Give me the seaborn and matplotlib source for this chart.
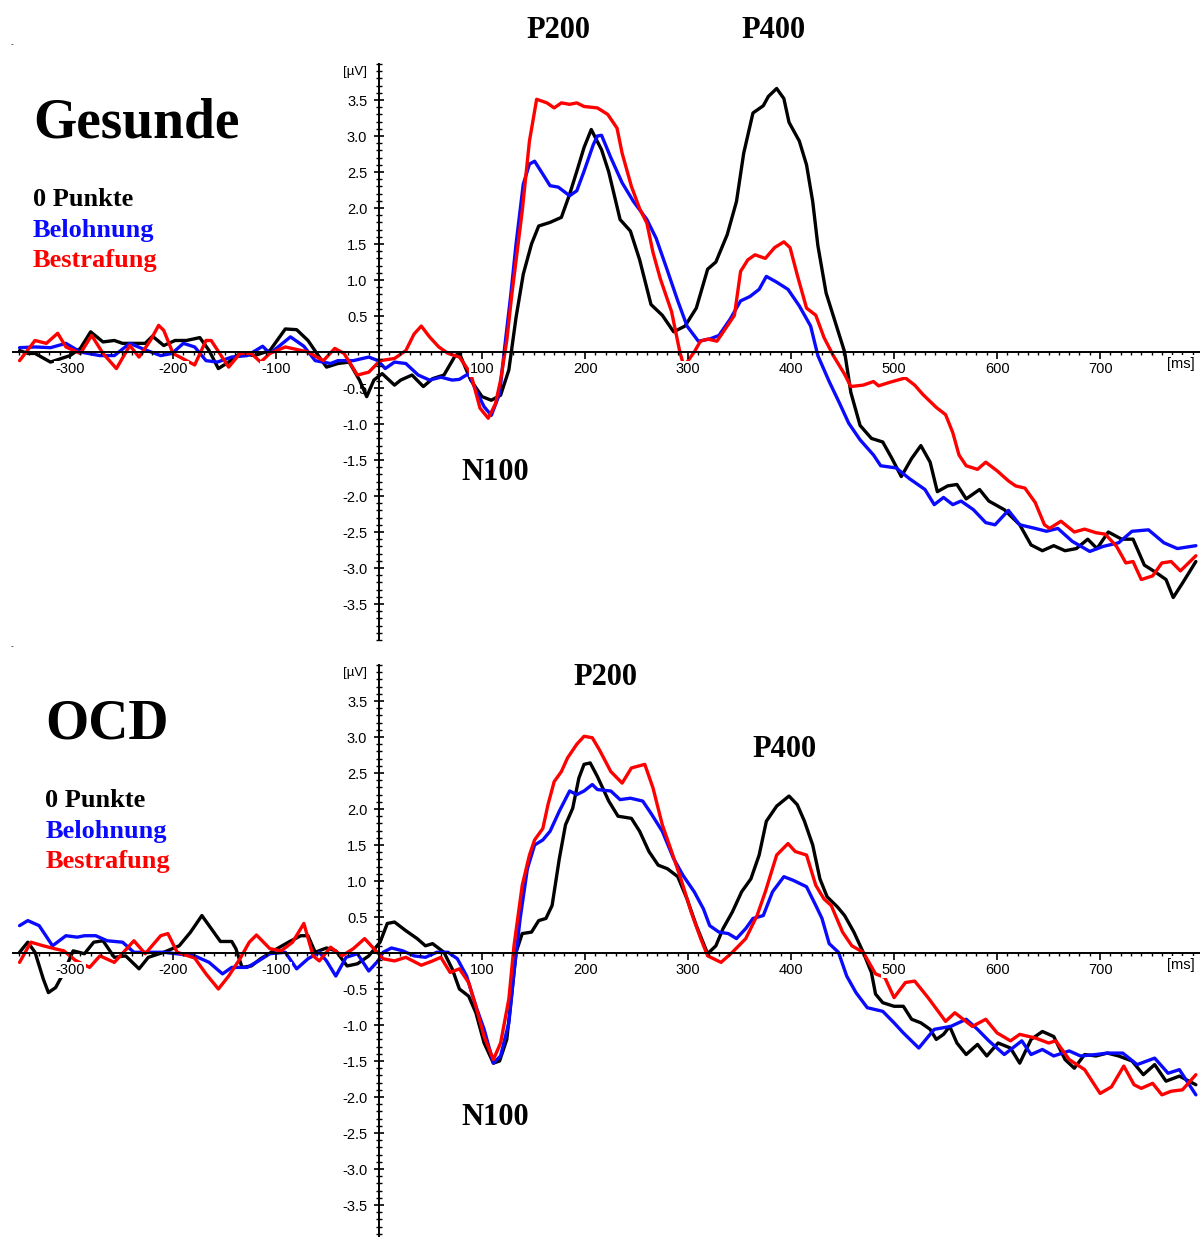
import numpy as np
import pandas as pd
import matplotlib
matplotlib.use('Agg')
import matplotlib.pyplot as plt
import seaborn as sns

sns.set_style('white')
plt.rcParams['font.family'] = ['Liberation Sans', 'DejaVu Sans']
plt.rcParams['text.color'] = 'black'
plt.rcParams['xtick.color'] = 'black'
plt.rcParams['ytick.color'] = 'black'

# Bedingungen und Farben
bedingungen = ['0 Punkte', 'Belohnung', 'Bestrafung']
farben = {'0 Punkte': '#000000', 'Belohnung': '#0a0aff', 'Bestrafung': '#ff0000'}

# ERP-Kurven (ms, µV)
ges_null = [(-349, 0.02), (-341, -0.02), (-334, -0.02), (-319, -0.14), (-300, -0.05), (-290, 0.05),
            (-280, 0.28), (-268, 0.14), (-257, 0.16), (-249, 0.12), (-238, 0.12), (-227, 0.12), (-220, 0.22),
            (-209, 0.09), (-198, 0.16), (-187, 0.16), (-174, 0.2), (-165, 0.02), (-156, -0.23), (-146, -0.14),
            (-135, -0.02), (-121, -0.05), (-106, 0.02), (-91, 0.32), (-80, 0.31), (-69, 0.16), (-58, -0.07),
            (-51, -0.21), (-40, -0.16), (-29, -0.14), (-19, -0.39), (-12, -0.62), (-5, -0.39), (3, -0.30),
            (15, -0.46), (21, -0.39), (32, -0.32), (43, -0.48), (52, -0.37), (63, -0.32), (74, -0.05),
            (78, -0.02), (89, -0.39), (100, -0.62), (109, -0.67), (118, -0.60), (126, -0.25), (133, 0.48),
            (140, 1.08), (148, 1.50), (155, 1.75), (166, 1.80), (177, 1.87), (185, 2.19), (192, 2.51),
            (199, 2.84), (206, 3.09), (216, 2.81), (223, 2.5), (234, 1.84), (244, 1.68), (253, 1.28),
            (264, 0.66), (275, 0.51), (286, 0.28), (297, 0.36), (308, 0.61), (319, 1.15), (327, 1.25),
            (338, 1.63), (347, 2.09), (354, 2.76), (363, 3.32), (373, 3.42), (378, 3.55), (386, 3.66),
            (393, 3.52), (398, 3.19), (408, 2.93), (415, 2.6), (421, 2.09), (426, 1.48), (434, 0.82),
            (443, 0.41), (452, 0.0), (458, -0.56), (467, -1.02), (478, -1.2), (489, -1.25), (498, -1.48),
            (507, -1.73), (517, -1.48), (526, -1.30), (535, -1.53), (542, -1.94), (552, -1.86), (561, -1.84),
            (570, -2.04), (583, -1.91), (592, -2.07), (607, -2.19), (622, -2.4), (633, -2.68), (644, -2.76),
            (655, -2.69), (666, -2.76), (677, -2.73), (688, -2.60), (697, -2.73), (708, -2.5), (721, -2.6),
            (732, -2.6), (743, -2.96), (754, -3.06), (764, -3.16), (771, -3.41), (780, -3.21), (793, -2.91)]

ges_bel = [(-349, 0.06), (-334, 0.07), (-319, 0.06), (-304, 0.12), (-290, 0.0), (-271, -0.05), (-257, -0.05),
           (-242, 0.12), (-227, 0.03), (-212, -0.05), (-201, -0.02), (-190, 0.12), (-179, 0.07), (-168, -0.12),
           (-157, -0.14), (-143, -0.07), (-128, -0.05), (-113, 0.08), (-106, -0.02), (-98, 0.07), (-86, 0.21),
           (-73, 0.08), (-62, -0.12), (-47, -0.16), (-40, -0.12), (-25, -0.12), (-10, -0.07), (-1, -0.12),
           (6, -0.23), (15, -0.14), (26, -0.16), (38, -0.32), (49, -0.39), (60, -0.35), (71, -0.39),
           (78, -0.38), (87, -0.30), (94, -0.53), (102, -0.76), (109, -0.88), (117, -0.58), (122, 0.07),
           (128, 0.81), (133, 1.5), (140, 2.33), (146, 2.61), (151, 2.65), (159, 2.47), (166, 2.31),
           (174, 2.29), (185, 2.17), (192, 2.24), (199, 2.51), (208, 2.88), (212, 3.0), (216, 3.01),
           (225, 2.70), (236, 2.35), (247, 2.09), (260, 1.84), (269, 1.58), (279, 1.17), (290, 0.71),
           (299, 0.36), (310, 0.15), (321, 0.18), (330, 0.23), (341, 0.46), (351, 0.71), (360, 0.77),
           (369, 0.87), (376, 1.05), (386, 0.97), (397, 0.87), (408, 0.64), (419, 0.36), (426, -0.05),
           (437, -0.41), (447, -0.71), (456, -0.99), (467, -1.22), (480, -1.43), (487, -1.58), (502, -1.61),
           (515, -1.76), (530, -1.91), (539, -2.12), (548, -2.02), (557, -2.12), (565, -2.07), (577, -2.19),
           (589, -2.37), (598, -2.40), (611, -2.2), (622, -2.4), (637, -2.45), (648, -2.49), (659, -2.45),
           (673, -2.63), (690, -2.77), (703, -2.70), (718, -2.65), (731, -2.49), (747, -2.47), (762, -2.65),
           (775, -2.73), (793, -2.69)]

ges_bes = [(-349, -0.12), (-334, 0.16), (-323, 0.12), (-312, 0.26), (-304, 0.07), (-290, -0.02), (-279, 0.23),
           (-268, -0.02), (-255, -0.23), (-242, 0.09), (-233, -0.07), (-222, 0.16), (-214, 0.37), (-209, 0.3),
           (-200, -0.02), (-179, -0.18), (-168, 0.16), (-163, 0.16), (-146, -0.21), (-135, -0.02), (-124, -0.02),
           (-115, -0.14), (-106, -0.02), (-91, 0.07), (-69, 0.0), (-54, -0.12), (-43, 0.05), (-34, -0.02),
           (-21, -0.32), (-10, -0.28), (1, -0.12), (15, -0.09), (26, 0.02), (34, 0.25), (41, 0.36), (49, 0.21),
           (58, 0.07), (67, -0.02), (78, -0.07), (89, -0.3), (98, -0.78), (106, -0.92), (113, -0.72),
           (118, -0.39), (124, 0.16), (129, 0.81), (139, 1.96), (146, 2.93), (153, 3.51), (163, 3.46),
           (170, 3.39), (177, 3.46), (185, 3.44), (192, 3.46), (199, 3.41), (212, 3.39), (222, 3.30),
           (231, 3.11), (236, 2.76), (245, 2.30), (253, 1.99), (260, 1.79), (266, 1.38), (273, 1.02),
           (284, 0.56), (292, 0.0), (296, -0.2), (306, 0.0), (312, 0.15), (319, 0.18), (328, 0.15), (338, 0.36),
           (345, 0.51), (351, 1.12), (358, 1.28), (365, 1.35), (375, 1.30), (384, 1.45), (393, 1.53),
           (399, 1.45), (406, 1.07), (415, 0.61), (424, 0.51), (432, 0.20), (441, -0.05), (452, -0.31),
           (458, -0.48), (470, -0.46), (480, -0.41), (485, -0.47), (496, -0.42), (511, -0.36), (520, -0.46),
           (528, -0.59), (541, -0.77), (550, -0.87), (557, -1.12), (563, -1.43), (570, -1.58), (581, -1.63),
           (589, -1.53), (600, -1.65), (611, -1.79), (618, -1.86), (627, -1.89), (637, -2.09), (646, -2.4),
           (651, -2.45), (662, -2.35), (675, -2.5), (685, -2.46), (696, -2.51), (705, -2.53), (716, -2.70),
           (725, -2.93), (732, -2.91), (740, -3.16), (751, -3.11), (760, -2.93), (769, -2.91), (778, -3.04),
           (793, -2.83)]

ocd_null = [(-349, 0.01), (-341, 0.15), (-334, 0.01), (-326, -0.36), (-321, -0.55), (-314, -0.48), (-306, -0.27),
            (-297, 0.03), (-286, -0.01), (-277, 0.15), (-268, 0.17), (-257, -0.06), (-246, -0.04), (-233, -0.22),
            (-224, -0.06), (-209, 0.01), (-194, 0.1), (-183, 0.29), (-172, 0.52), (-163, 0.34), (-154, 0.16),
            (-143, 0.16), (-139, 0.06), (-133, -0.2), (-124, -0.18), (-115, -0.08), (-99, 0.06), (-88, 0.15),
            (-76, 0.24), (-69, 0.24), (-62, 0.01), (-51, 0.07), (-42, 0.03), (-31, -0.18), (-21, -0.15),
            (-10, -0.04), (1, 0.15), (8, 0.41), (15, 0.43), (26, 0.31), (37, 0.2), (45, 0.1), (52, 0.13),
            (63, 0.01), (71, -0.22), (78, -0.5), (87, -0.6), (94, -0.83), (102, -1.25), (111, -1.53),
            (117, -1.5), (124, -1.2), (129, -0.55), (133, 0.01), (139, 0.27), (148, 0.29), (155, 0.45),
            (162, 0.48), (168, 0.66), (175, 1.31), (181, 1.78), (188, 2.01), (194, 2.43), (199, 2.62),
            (205, 2.64), (212, 2.45), (223, 2.11), (232, 1.9), (245, 1.87), (253, 1.69), (262, 1.41),
            (271, 1.22), (280, 1.17), (290, 1.06), (299, 0.75), (308, 0.38), (319, -0.01), (327, 0.1),
            (334, 0.34), (343, 0.57), (352, 0.85), (361, 1.03), (369, 1.36), (376, 1.83), (386, 2.04),
            (398, 2.18), (406, 2.06), (413, 1.83), (421, 1.5), (428, 1.03), (435, 0.78), (445, 0.64),
            (452, 0.52), (461, 0.29), (470, 0.01), (478, -0.27), (482, -0.57), (489, -0.69), (500, -0.74),
            (509, -0.74), (517, -0.92), (526, -0.97), (535, -1.06), (541, -1.2), (548, -1.13), (554, -1.02),
            (561, -1.25), (570, -1.41), (581, -1.27), (590, -1.43), (601, -1.25), (613, -1.32), (622, -1.53),
            (633, -1.2), (644, -1.09), (655, -1.16), (666, -1.48), (675, -1.6), (685, -1.41), (696, -1.43),
            (707, -1.39), (718, -1.43), (731, -1.5), (742, -1.69), (753, -1.55), (764, -1.78), (777, -1.71),
            (793, -1.83)]

ocd_bel = [(-349, 0.38), (-341, 0.45), (-330, 0.38), (-317, 0.1), (-304, 0.24), (-293, 0.22), (-286, 0.24),
           (-275, 0.24), (-264, 0.17), (-249, 0.15), (-238, 0.01), (-224, 0.01), (-209, 0.01), (-179, -0.04),
           (-165, -0.13), (-152, -0.29), (-143, -0.2), (-128, -0.2), (-117, -0.11), (-106, -0.01), (-91, 0.01),
           (-80, -0.22), (-69, -0.08), (-58, 0.01), (-51, -0.11), (-42, -0.32), (-32, -0.06), (-21, -0.01),
           (-10, -0.25), (-1, -0.11), (4, 0.01), (12, 0.07), (23, 0.03), (34, -0.04), (45, -0.06), (56, 0.01),
           (67, 0.01), (76, -0.08), (85, -0.32), (94, -0.74), (102, -1.06), (111, -1.53), (118, -1.43),
           (126, -0.97), (131, -0.27), (137, 0.48), (144, 1.17), (151, 1.5), (159, 1.57), (166, 1.69),
           (175, 1.97), (185, 2.25), (192, 2.2), (199, 2.25), (207, 2.34), (212, 2.27), (225, 2.25),
           (234, 2.13), (244, 2.15), (256, 2.11), (264, 1.94), (275, 1.69), (286, 1.31), (295, 1.08),
           (306, 0.85), (315, 0.61), (321, 0.38), (330, 0.29), (339, 0.27), (347, 0.2), (356, 0.34),
           (363, 0.48), (373, 0.52), (382, 0.85), (393, 1.06), (402, 1.01), (415, 0.92), (424, 0.66),
           (430, 0.48), (437, 0.13), (446, 0.01), (454, -0.32), (463, -0.55), (474, -0.76), (489, -0.81),
           (500, -0.97), (509, -1.11), (524, -1.32), (539, -1.06), (555, -1.02), (570, -0.92), (581, -1.06),
           (592, -1.22), (607, -1.41), (624, -1.22), (633, -1.41), (644, -1.34), (655, -1.43), (670, -1.36),
           (681, -1.43), (696, -1.41), (707, -1.39), (722, -1.39), (736, -1.55), (753, -1.46), (766, -1.67),
           (777, -1.62), (793, -1.97)]

ocd_bes = [(-349, -0.13), (-338, 0.15), (-326, 0.1), (-315, 0.06), (-306, 0.03), (-295, -0.1), (-281, -0.2),
           (-271, -0.04), (-257, -0.13), (-238, 0.17), (-227, -0.01), (-212, 0.24), (-205, 0.27), (-196, 0.01),
           (-179, -0.07), (-168, -0.29), (-156, -0.5), (-146, -0.32), (-135, -0.08), (-126, 0.15), (-119, 0.25),
           (-106, 0.06), (-95, 0.03), (-84, 0.15), (-73, 0.41), (-64, -0.04), (-58, -0.11), (-47, 0.08),
           (-36, -0.04), (-25, 0.06), (-14, 0.2), (-5, 0.06), (4, -0.08), (15, -0.11), (26, -0.06), (41, -0.17),
           (52, -0.11), (60, -0.06), (69, -0.27), (78, -0.22), (87, -0.41), (94, -0.74), (102, -1.16),
           (111, -1.48), (118, -1.25), (126, -0.64), (131, 0.1), (139, 0.94), (146, 1.36), (151, 1.57),
           (159, 1.73), (164, 2.06), (170, 2.38), (177, 2.52), (183, 2.71), (192, 2.9), (199, 3.01),
           (207, 2.99), (214, 2.82), (225, 2.52), (236, 2.36), (245, 2.57), (258, 2.62), (266, 2.29),
           (275, 1.78), (284, 1.41), (293, 1.03), (303, 0.57), (312, 0.21), (319, -0.04), (332, -0.13),
           (343, 0.01), (356, 0.2), (367, 0.52), (375, 0.85), (386, 1.36), (397, 1.52), (404, 1.41),
           (415, 1.36), (424, 0.94), (432, 0.75), (439, 0.66), (450, 0.29), (459, 0.1), (470, 0.01),
           (482, -0.29), (491, -0.34), (500, -0.62), (511, -0.41), (520, -0.39), (533, -0.62), (550, -0.95),
           (559, -0.83), (576, -1.02), (589, -0.92), (600, -1.11), (613, -1.22), (622, -1.13), (637, -1.18),
           (650, -1.25), (657, -1.22), (670, -1.48), (685, -1.62), (700, -1.95), (711, -1.86), (723, -1.57),
           (733, -1.83), (740, -1.88), (751, -1.81), (760, -1.97), (769, -1.92), (780, -1.9), (793, -1.69)]

x_ticks = [-300, -200, -100, 100, 200, 300, 400, 500, 600, 700]
y_ticks = [-3.5, -3.0, -2.5, -2.0, -1.5, -1.0, -0.5, 0.5, 1.0, 1.5, 2.0, 2.5, 3.0, 3.5]

serif = ['Liberation Serif', 'DejaVu Serif']


def zeichne(ax, kurven, titel, titel_x, komponenten):
    teile = []
    for name, kurve in zip(bedingungen, kurven):
        d = pd.DataFrame(kurve, columns=['ms', 'uV'])
        d['Bedingung'] = name
        teile.append(d)
    df = pd.concat(teile, ignore_index=True)

    sns.lineplot(data=df, x='ms', y='uV', hue='Bedingung', hue_order=bedingungen,
                 palette=farben, sort=False, estimator=None, linewidth=2.4,
                 legend=False, ax=ax)

    ax.set_xlim(-368, 797)
    ax.set_ylim(-4, 4)
    ax.set_xlabel('')
    ax.set_ylabel('')
    ax.patch.set_alpha(0)
    for s in ['top', 'right']:
        ax.spines[s].set_visible(False)
    ax.spines['left'].set_position(('data', 0))
    ax.spines['bottom'].set_position(('data', 0))
    ax.spines['bottom'].set_bounds(-355, 797)
    for s in ['left', 'bottom']:
        ax.spines[s].set_linewidth(1.4)
        ax.spines[s].set_color('black')

    ax.set_xticks(x_ticks)
    ax.set_xticks(np.arange(-350, 800, 10), minor=True)
    ax.set_xticklabels([str(v) for v in x_ticks])
    ax.set_yticks(y_ticks)
    ax.set_yticks(np.arange(-4, 4.01, 0.1), minor=True)
    ax.set_yticklabels([f'{v:.1f}' for v in y_ticks])
    ax.tick_params(axis='x', which='both', bottom=True)
    ax.tick_params(axis='y', which='both', left=True)
    ax.tick_params(axis='x', which='major', direction='out', length=5, width=1.2, pad=2, labelsize=10.5)
    ax.tick_params(axis='x', which='minor', direction='out', length=2.5, width=1.0)
    ax.tick_params(axis='y', which='major', direction='inout', length=7, width=1.2, pad=5, labelsize=10.5)
    ax.tick_params(axis='y', which='minor', direction='inout', length=4, width=1.0)
    ax.set_axisbelow(False)
    for t in ax.get_xticklabels():
        t.set_bbox(dict(facecolor='white', edgecolor='none', pad=0.8))

    ax.text(-12, 3.89, '[µV]', ha='right', va='center', fontsize=9.5)
    ax.text(778, -0.16, '[ms]', ha='center', va='center', fontsize=10.5,
            bbox=dict(facecolor='white', edgecolor='none', pad=0.8))

    ax.text(titel_x, 3.17, titel, ha='left', va='center', fontsize=40,
            fontweight='bold', family=serif)
    for name, y in zip(bedingungen, [2.12, 1.69, 1.27]):
        ax.text(titel_x, y, name, ha='left', va='center', fontsize=19,
                fontweight='bold', family=serif, color=farben[name])
    for text, x, y in komponenten:
        ax.text(x, y, text, ha='center', va='center', fontsize=22,
                fontweight='bold', family=serif)


fig = plt.figure(figsize=(12, 12.37), dpi=100)
ax_oben = fig.add_axes([0, 1 - 640 / 1237, 1, 576 / 1237])
ax_unten = fig.add_axes([0, 1 - 1241 / 1237, 1, 576 / 1237])

zeichne(ax_oben, [ges_null, ges_bel, ges_bes], 'Gesunde', -336,
        [('P200', 174, 4.46), ('P400', 383, 4.46), ('N100', 113, -1.67)])
zeichne(ax_unten, [ocd_null, ocd_bel, ocd_bes], 'OCD', -324,
        [('P200', 220, 3.83), ('P400', 394, 2.83), ('N100', 113, -2.28)])

fig.text(12 / 1200, 1 - 45 / 1237, '-', fontsize=6, ha='center', va='center')
fig.text(12 / 1200, 1 - 647 / 1237, '-', fontsize=6, ha='center', va='center')

fig.savefig('out.png', dpi=100)
